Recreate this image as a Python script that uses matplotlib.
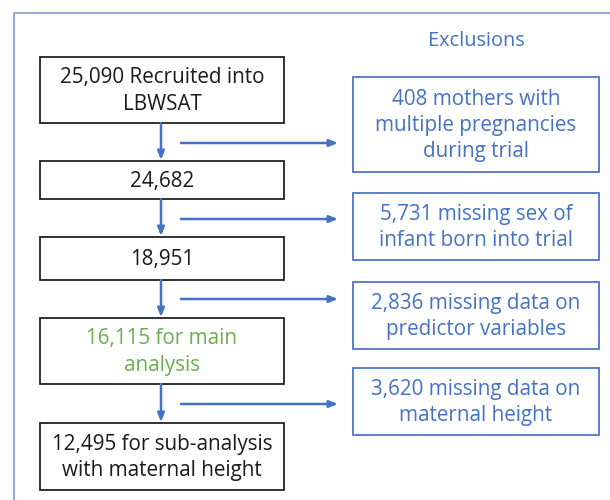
import matplotlib
matplotlib.use("Agg")
import matplotlib.pyplot as plt
from matplotlib.patches import Rectangle

# ---- data ----
flow_labels = [
    "25,090 Recruited into\nLBWSAT",
    "24,682",
    "18,951",
    "16,115 for main\nanalysis",
    "12,495 for sub-analysis\nwith maternal height",
]
flow_colors = ["#1a1a1a", "#1a1a1a", "#1a1a1a", "#6ab04c", "#1a1a1a"]
exclusion_labels = [
    "408 mothers with\nmultiple pregnancies\nduring trial",
    "5,731 missing sex of\ninfant born into trial",
    "2,836 missing data on\npredictor variables",
    "3,620 missing data on\nmaternal height",
]
header = "Exclusions"

# ---- layout (pixel coordinates) ----
left_x0, left_x1 = 40, 284
left_boxes_y = [(57, 123), (161, 199), (237, 280), (318, 384), (423, 490)]
right_x0, right_x1 = 353, 599
right_boxes_y = [(77, 172), (193, 260), (282, 349), (368, 435)]
arrow_ys = [143, 219, 299, 404]

BLUE = "#4472c4"
BOXBLUE = "#5b7fd0"
FRAME = "#8d9fe3"
FONT = ["Open Sans", "DejaVu Sans"]
FS = 14.9

fig = plt.figure(figsize=(6.1, 5.0), dpi=100)
ax = fig.add_axes([0, 0, 1, 1])
ax.set_xlim(0, 610)
ax.set_ylim(500, 0)
ax.axis("off")

# outer frame (open on right/bottom)
ax.plot([14, 14, 610], [500, 13, 13], color=FRAME, lw=1.3, solid_capstyle="butt")

ax.text((right_x0 + right_x1) / 2, 41, header, color=BLUE, fontsize=14.3,
        ha="center", va="center", family=FONT)

for (y0, y1), lab, col in zip(left_boxes_y, flow_labels, flow_colors):
    ax.add_patch(Rectangle((left_x0, y0), left_x1 - left_x0, y1 - y0,
                           fill=False, ec="#222222", lw=1.3))
    ax.text((left_x0 + left_x1) / 2, (y0 + y1) / 2 + 1, lab, color=col,
            fontsize=FS, ha="center", va="center", family=FONT, linespacing=1.33)

for (y0, y1), lab in zip(right_boxes_y, exclusion_labels):
    ax.add_patch(Rectangle((right_x0, y0), right_x1 - right_x0, y1 - y0,
                           fill=False, ec=BOXBLUE, lw=1.4))
    ax.text((right_x0 + right_x1) / 2, (y0 + y1) / 2 + 1, lab, color=BLUE,
            fontsize=FS, ha="center", va="center", family=FONT, linespacing=1.33)

aprops = dict(arrowstyle="-|>,head_length=0.5,head_width=0.2", color=BLUE,
              lw=1.8, shrinkA=0, shrinkB=0)
# vertical arrows
for (a0, a1), (b0, b1) in zip(left_boxes_y[:-1], left_boxes_y[1:]):
    ax.annotate("", xy=(161, b0 - 1), xytext=(161, a1), arrowprops=aprops)
# horizontal arrows
for y in arrow_ys:
    ax.annotate("", xy=(338, y), xytext=(181, y), arrowprops=aprops)

fig.savefig("out.png", dpi=100)
